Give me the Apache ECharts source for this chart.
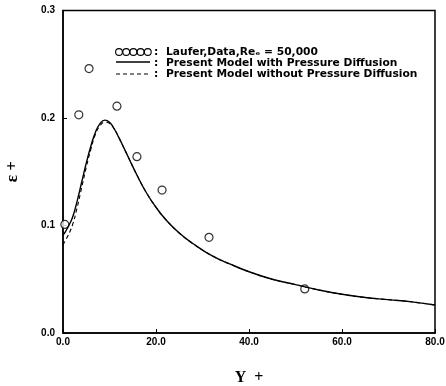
<!DOCTYPE html>
<html>
<head>
<meta charset="utf-8">
<script src="https://cdn.jsdelivr.net/npm/echarts@6/dist/echarts.min.js"></script>
<style>
  html, body { margin: 0; padding: 0; background: #fff; }
  #chart { width: 446px; height: 386px; }
</style>
</head>
<body>
<div id="chart"></div>
<script>
// Laufer data (Re = 50,000): Y+ and epsilon+
const dataY = [0.4, 3.4, 5.6, 11.6, 15.9, 21.3, 31.4, 52.0];
const dataEps = [0.101, 0.203, 0.246, 0.211, 0.164, 0.133, 0.089, 0.041];

// Model profiles sampled in Y+
const modelY = [0, 0.5, 1, 2, 3, 4, 5, 6, 7, 8, 9, 10, 11, 12, 13, 14, 16, 18, 20, 22, 25, 28, 32, 36, 40, 45, 50, 55, 60, 65, 70, 75, 80];
const withPD = [0.091, 0.094, 0.098, 0.107, 0.122, 0.140, 0.158, 0.174, 0.187, 0.195, 0.198, 0.196, 0.190, 0.182, 0.173, 0.164, 0.146, 0.130, 0.117, 0.106, 0.093, 0.083, 0.072, 0.064, 0.057, 0.050, 0.045, 0.040, 0.036, 0.033, 0.031, 0.029, 0.026];
const withoutPD = [0.082, 0.086, 0.090, 0.100, 0.116, 0.135, 0.154, 0.171, 0.185, 0.193, 0.196, 0.195, 0.190, 0.182, 0.173, 0.164, 0.146, 0.130, 0.117, 0.106, 0.093, 0.083, 0.072, 0.064, 0.057, 0.050, 0.045, 0.040, 0.036, 0.033, 0.031, 0.029, 0.026];

const legendTexts = [
  'Laufer,Data,Re\u2091 = 50,000',
  'Present Model with Pressure Diffusion',
  'Present Model without Pressure Diffusion'
];

const zip = (xs, ys) => xs.map((x, i) => [x, ys[i]]);

const chart = echarts.init(document.getElementById('chart'));
const labelFont = { fontFamily: 'Liberation Sans', fontWeight: 'bold', fontSize: 10, color: '#000' };
const legendFont = { fontFamily: 'DejaVu Sans', fontWeight: 'bold', fontSize: 10.7, fill: '#000' };

// Legend keys: a row of open circles, a solid stroke and a dashed stroke
const legendGraphics = [];
for (let i = 0; i < 5; i++) {
  legendGraphics.push({ type: 'circle', shape: { cx: 119 + i * 7.2, cy: 52, r: 3.4 }, style: { fill: 'none', stroke: '#000', lineWidth: 1.1 } });
}
legendGraphics.push({ type: 'line', shape: { x1: 116, y1: 62, x2: 150, y2: 62 }, style: { stroke: '#000', lineWidth: 1.4 } });
legendGraphics.push({ type: 'line', shape: { x1: 116, y1: 74, x2: 150, y2: 74 }, style: { stroke: '#000', lineWidth: 1.1, lineDash: [4, 3] } });
legendTexts.forEach((t, i) => {
  legendGraphics.push({ type: 'text', x: 154, y: 52 + i * 11, style: Object.assign({ text: ':', verticalAlign: 'middle' }, legendFont) });
  legendGraphics.push({ type: 'text', x: 166, y: 52 + i * 11, style: Object.assign({ text: t, verticalAlign: 'middle' }, legendFont) });
});

chart.setOption({
  animation: false,
  grid: { left: 63, right: 11, top: 10.5, bottom: 53, outerBoundsMode: 'none', containLabel: false, show: true, borderColor: '#000', borderWidth: 1.5, backgroundColor: 'transparent' },
  xAxis: {
    type: 'value', min: 0, max: 80, interval: 20,
    name: 'Y  +', nameLocation: 'middle', nameGap: 37,
    nameTextStyle: { fontFamily: 'Liberation Serif', fontSize: 16, fontWeight: 'bold', color: '#000' },
    axisLine: { lineStyle: { color: '#000', width: 1.5 } },
    axisTick: { inside: true, length: 4, lineStyle: { color: '#000' } },
    axisLabel: Object.assign({ margin: 4, formatter: v => v.toFixed(1) }, labelFont),
    splitLine: { show: false }
  },
  yAxis: {
    type: 'value', min: 0, max: 0.3, interval: 0.1,
    name: '\u03B5 +', nameLocation: 'middle', nameGap: 42,
    nameTextStyle: { fontFamily: 'Liberation Serif', fontSize: 17, fontWeight: 'bold', color: '#000' },
    axisLine: { lineStyle: { color: '#000', width: 1.5 } },
    axisTick: { inside: true, length: 4, lineStyle: { color: '#000' } },
    axisLabel: Object.assign({ margin: 8, formatter: v => v.toFixed(1) }, labelFont),
    splitLine: { show: false }
  },
  graphic: legendGraphics,
  series: [
    {
      type: 'line', data: zip(modelY, withPD), smooth: true, showSymbol: false,
      lineStyle: { color: '#000', width: 1.4 }
    },
    {
      type: 'line', data: zip(modelY, withoutPD), smooth: true, showSymbol: false,
      lineStyle: { color: '#000', width: 1.1, type: [4, 3] }
    },
    {
      type: 'scatter', data: zip(dataY, dataEps), symbol: 'circle', symbolSize: 8,
      itemStyle: { color: '#fff', borderColor: '#000', borderWidth: 1.2 }
    }
  ]
});
</script>
</body>
</html>
